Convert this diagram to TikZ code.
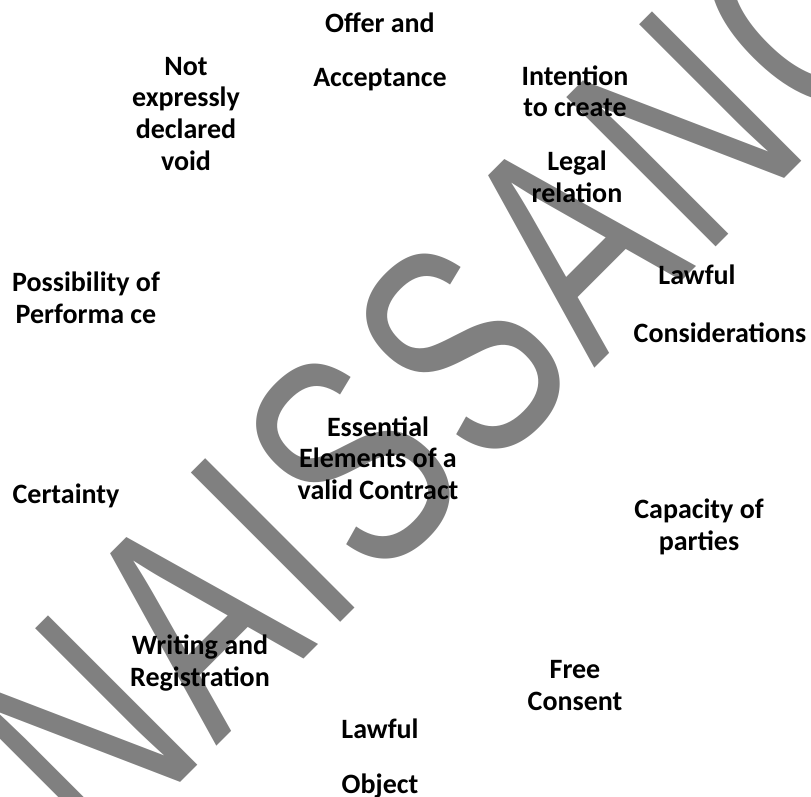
\documentclass[tikz,border=0pt]{standalone}
\usepackage{fontspec}
\usepackage{graphicx}
\setmainfont{Carlito}
\newfontfamily\stampfont{Liberation Sans}
\definecolor{stampgray}{HTML}{808080}
\newcommand{\trk}{\kern14pt}
\tikzset{
  % multi-line labels sit on the baseline of their last line
  lbl/.style={anchor=base, align=center, inner sep=0pt, text=black,
    font=\fontsize{28}{31.5}\selectfont\bfseries},
  stamptext/.style={anchor=base west, rotate=45, inner sep=0pt, text=stampgray,
    font=\stampfont\fontsize{307}{307}\selectfont}
}
\begin{document}
\begin{tikzpicture}[x=1pt, y=-1pt]
  \useasboundingbox (0,0) rectangle (811,797);
  \clip (0,0) rectangle (811,797);
  % large diagonal lettering behind the labels, condensed and tracked out
  \node[stamptext] (stamp) at (99,864)
    {\scalebox{0.707}[1]{N\trk A\trk I\trk S\trk S\trk A\trk N\trk C\trk E}};
  % the essential elements around the central title
  \node[lbl] (offer) at (380,87) {Offer and\\[22.5pt]Acceptance};
  \node[lbl] (notvoid) at (186,170) {Not\\expressly\\declared\\void};
  \node[lbl] (intention) at (575,117) {Intention\\to create};
  \node[lbl] (legal) at (577,202) {Legal\\relation};
  \node[lbl] (possible) at (86,323) {Possibility of\\Performa ce};
  \node[lbl] (lawful) at (697,284) {Lawful};
  \node[lbl] (consider) at (720,342) {Considerations};
  \node[lbl] (essential) at (378,499) {Essential\\Elements of a\\valid Contract};
  \node[lbl] (certainty) at (66,503) {Certainty};
  \node[lbl] (capacity) at (699,550) {Capacity of\\parties};
  \node[lbl] (writing) at (200,686) {Writing and\\Registration};
  \node[lbl] (free) at (575,710) {Free\\Consent};
  \node[lbl] (object) at (380,793) {Lawful\\[23.5pt]Object};
\end{tikzpicture}
\end{document}
